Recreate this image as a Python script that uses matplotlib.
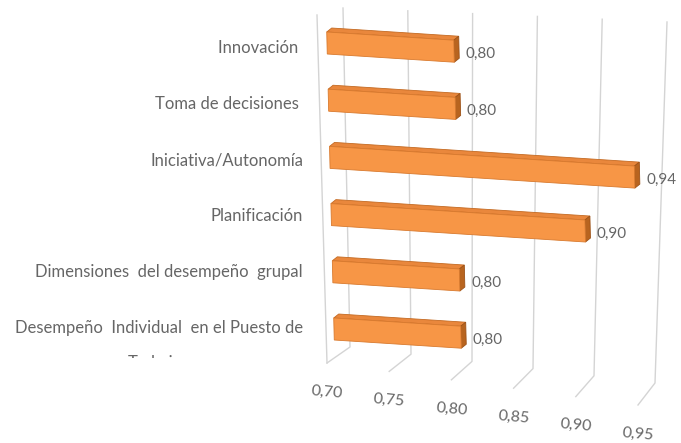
import numpy as np
import matplotlib.pyplot as plt
from matplotlib.patches import Polygon
from matplotlib.transforms import Affine2D, Bbox

categorias = ["Innovación ", "Toma de decisiones ", "Iniciativa/Autonomía",
              "Planificación", "Dimensiones  del desempeño  grupal",
              "Desempeño  Individual  en el Puesto de"]
valores = [0.80, 0.80, 0.94, 0.90, 0.80, 0.80]
ticks = [0.70, 0.75, 0.80, 0.85, 0.90, 0.95]
etiquetas_ticks = ["0,70", "0,75", "0,80", "0,85", "0,90", "0,95"]

plt.rcParams['font.family'] = ['Lato', 'DejaVu Sans']

fig = plt.figure(figsize=(6.81, 4.43), dpi=100)
ax = fig.add_axes([0, 0, 1, 1])
ax.set_xlim(0, 681)
ax.set_ylim(443, 0)
ax.axis('off')

# "3D" perspectiva: valor/categoria -> pixeles (aprox. afin)
base = 0.70
M = np.array([[1270.0, 1.4, 327 - 1270.0 * base],
              [82.0, 57.2, 43 - 82.0 * base],
              [0, 0, 1]])
T = Affine2D(M) + ax.transData

gris_grid = '#d4d4d4'
gris_txt = '#666666'

# paredes y grilla (pared de fondo + piso)
t = np.array(ticks) - base
top_x, top_y = 343 + 1296 * t, 8 + 56 * t
bot_x, bot_y = 350 + 1220 * t, 347 + 144 * t
fr_x, fr_y = 327 + 1244 * t, 363 + 168 * t
for i in range(len(ticks)):
    ax.plot([top_x[i], bot_x[i], fr_x[i]], [top_y[i], bot_y[i], fr_y[i]],
            color=gris_grid, lw=1.0, zorder=1)
ax.plot([317, 327], [15, 363], color=gris_grid, lw=1.0, zorder=1)

for i, lab in enumerate(etiquetas_ticks):
    ax.text(fr_x[i], fr_y[i] + 29, lab, ha='center', va='center',
            fontsize=11.5, color=gris_txt, rotation=-5)

# barras
filas = np.arange(len(valores))
h = 0.385
dv, dr = 0.004, -0.075
col_frente = '#f79646'
col_lado = '#b8641f'
col_arriba = '#e9873c'

for r, v in zip(filas, valores):
    y0, y1 = r - h / 2, r + h / 2
    arriba = Polygon([(base, y0), (v, y0), (v + dv, y0 + dr), (base + dv, y0 + dr)],
                     closed=True, transform=T, facecolor=col_arriba,
                     edgecolor='#c46a22', lw=0.6, zorder=3)
    lado = Polygon([(v, y0), (v, y1), (v + dv, y1 + dr), (v + dv, y0 + dr)],
                   closed=True, transform=T, facecolor=col_lado,
                   edgecolor='#9c5218', lw=0.6, zorder=3)
    ax.add_patch(arriba)
    ax.add_patch(lado)

ax.barh(filas, np.array(valores) - base, left=base, height=h, transform=T,
        color=col_frente, edgecolor='#d97a2e', linewidth=0.6, zorder=4)

for r, v in zip(filas, valores):
    ax.text(v + 0.009, r + 0.03, f"{v:.2f}".replace('.', ','), transform=T,
            ha='left', va='center', fontsize=11, color=gris_txt, zorder=5)

# etiquetas de categorias
for i, c in enumerate(categorias):
    ax.text(303, 48 + 56 * i, c, ha='right', va='center', fontsize=12,
            color=gris_txt)

# segunda linea recortada de la ultima etiqueta
tx = ax.text(155, 368, "Trabajo", ha='center', va='baseline', fontsize=12,
             color=gris_txt)
tx.set_clip_box(Bbox([[0, 443 - 358], [681, 443]]))
tx.set_clip_on(True)

fig.savefig('out.png', dpi=100)
